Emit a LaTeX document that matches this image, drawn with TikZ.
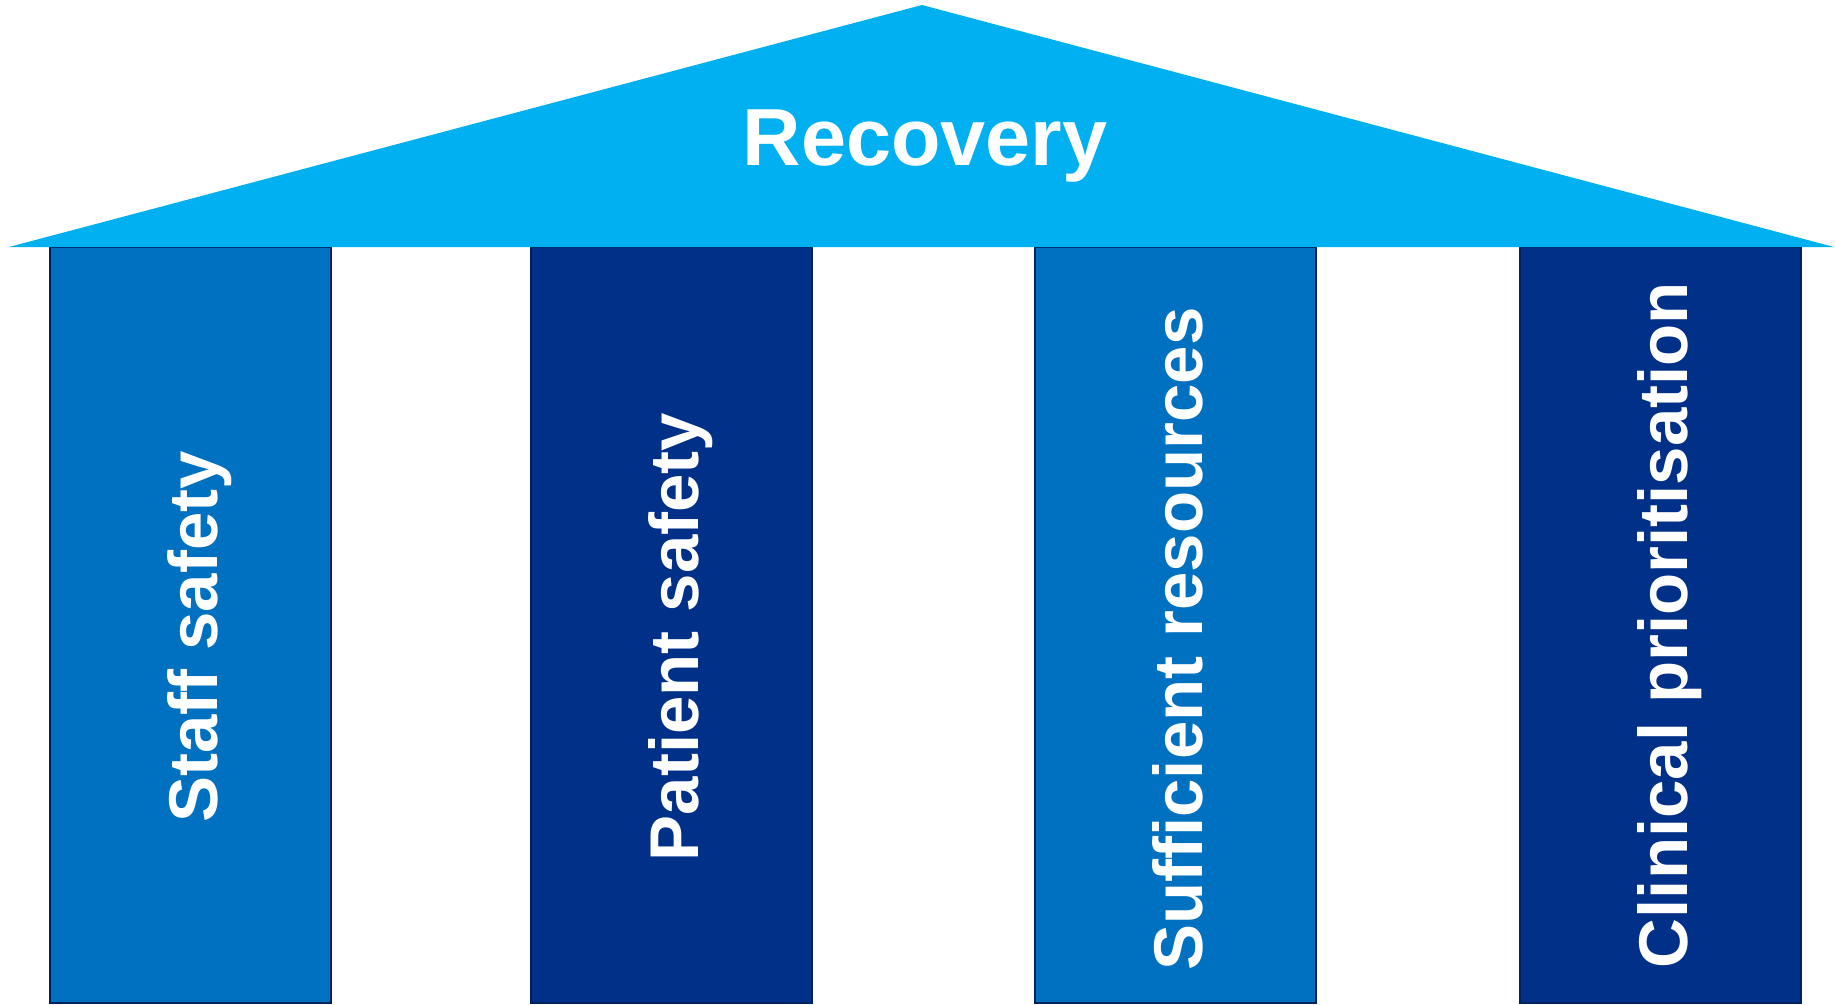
\documentclass[tikz,border=0pt]{standalone}
\usepackage{fontspec}
\setmainfont{Liberation Sans}[Ligatures=NoCommon]
\usepackage{tikz}
\definecolor{roofblue}{HTML}{00B0F0}
\definecolor{lightpillar}{HTML}{0070C0}
\definecolor{darkpillar}{HTML}{003087}
\definecolor{pillaredge}{HTML}{002060}
\tikzset{
  pillar/.style={draw=pillaredge, line width=2pt, minimum width=281pt, minimum height=756pt, inner sep=0pt},
  pillartext/.style={text=white, rotate=90, anchor=base, inner sep=0pt, font=\bfseries\fontsize{69}{80}\selectfont},
}

\begin{document}
\begin{tikzpicture}[x=1pt, y=-1pt]

  \useasboundingbox (0,0) rectangle (1835,1004);

  \newcommand\T{625};  %% pillar middle
  \newcommand\B{27};   %% baseline offset

  %% pillars
  \node[pillar, fill=lightpillar] (staff)   at (190.5,\T) {};
  \node[pillar, fill=darkpillar]  (patient) at (671.5,\T) {};
  \node[pillar, fill=lightpillar] (supply)  at (1175,\T)  {};
  \node[pillar, fill=darkpillar]  (triage)  at (1660,\T)  {};

  \node[pillartext] (stafftext)   at (190.5+\B, 637) {Staff safety};
  \node[pillartext] (patienttext) at (671.5+\B, 637) {Patient safety};
  \node[pillartext] (supplytext)  at (1175+\B, 639)  {Sufficient resources};
  \node[pillartext] (triagetext)  at (1660+\B, 625)  {Clinical prioritisation};

  %% roof
  \fill[roofblue] (9,247) -- (922,5) -- (1834,247) -- cycle;
  \node[text=white, anchor=base, inner sep=0pt, font=\bfseries\fontsize{81}{92}\selectfont]
    (recovery) at (925,165) {Recovery};

\end{tikzpicture}
\end{document}
